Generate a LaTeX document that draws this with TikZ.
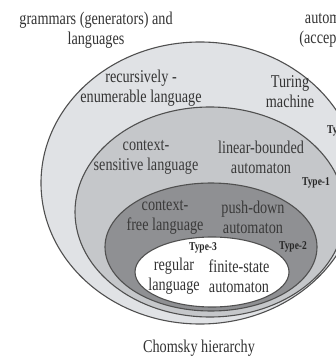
\documentclass[tikz,border=0pt]{standalone}
\usepackage{fontspec}
\setmainfont{Liberation Serif}[FakeStretch=0.79]
\usetikzlibrary{shapes.geometric}
\definecolor{fillA}{HTML}{E0E2E5}
\definecolor{fillB}{HTML}{C5C7CA}
\definecolor{fillC}{HTML}{8F9093}
\definecolor{edgec}{HTML}{505050}
\definecolor{txt}{HTML}{333333}
\definecolor{txtin}{HTML}{3A3A3A}
\begin{document}
\begin{tikzpicture}[x=1pt,y=-1pt,
  region/.style={ellipse, draw=edgec, line width=1.1pt, inner sep=0pt},
  lbl/.style={align=center, text=txt, font=\fontsize{18}{20}\selectfont, inner sep=0pt},
  typelbl/.style={font=\fontsize{12}{12}\selectfont\bfseries, text=black!85, inner sep=0pt}]
\useasboundingbox (0,0) rectangle (336,358);
\clip (0,0) rectangle (336,358);
\fill[white] (0,0) rectangle (336,358);
% regions
\node[region, fill=fillA, minimum width=318pt, minimum height=282pt] (t0) at (200,183) {};
\node[region, fill=fillB, minimum width=270pt, minimum height=210pt] (t1) at (210,212) {};
\node[region, fill=fillC, minimum width=212pt, minimum height=128pt] (t2) at (211,247) {};
\node[region, fill=white, minimum width=154pt, minimum height=70pt] (t3) at (212,272) {};
% headings
\node[lbl] (hg) at (96,30) {grammars (generators) and\\languages};
\node[lbl] (ha) at (331,30) {automata\\(acceptors)};
% type 0
\node[lbl] (l0) at (141,88) {recursively -\\enumerable language};
\node[lbl] (a0) at (290,92) {Turing\\machine};
\node[typelbl, anchor=west] (y0) at (327,131) {Type-0};
% type 1
\node[lbl, text=txtin] (l1) at (146,157) {context-\\sensitive language};
\node[lbl, text=txtin] (a1) at (261,157) {linear-bounded\\automaton};
\node[typelbl] (y1) at (316,183) {Type-1};
% type 2
\node[lbl, text=txtin] (l2) at (165,217) {context-\\free language};
\node[lbl, text=txtin] (a2) at (253,217) {push-down\\automaton};
\node[typelbl] (y2) at (293,247) {Type-2};
% type 3
\node[typelbl] (y3) at (203,248) {Type-3};
\node[lbl] (l3) at (174,276) {regular\\language};
\node[lbl] (a3) at (239,276) {finite-state\\automaton};
% caption
\node[lbl] (cap) at (199,348) {Chomsky hierarchy};
\end{tikzpicture}
\end{document}
